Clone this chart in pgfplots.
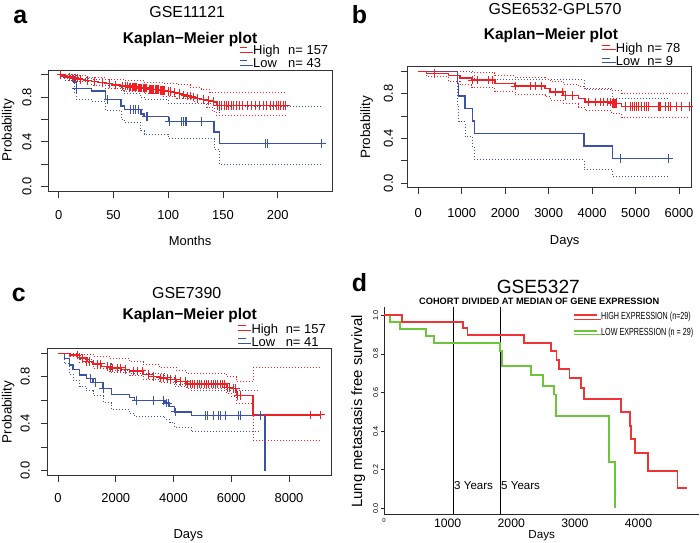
\documentclass[border=0pt]{standalone}
\usepackage{pgfplots}
\pgfplotsset{compat=1.18}
\usepackage{fontspec}
\setmainfont{Liberation Sans}
\newfontfamily\narrowfont[FakeStretch=0.7]{Liberation Sans}
\definecolor{kmred}{RGB}{238,32,36}
\definecolor{kmblue}{RGB}{58,82,168}
\definecolor{dred}{RGB}{240,52,52}
\definecolor{dgreen}{RGB}{108,198,58}
\pgfplotsset{
  rkm/.style={
    scale only axis, anchor=south west,
    axis line style={black!80, line width=1bp},
    tick style={black!80, line width=0.9bp},
    tick align=outside, major tick length=7bp,
    xtick pos=bottom, ytick pos=left,
    ymin=-0.04, ymax=1.04,
    ytick={0,0.2,0.4,0.6,0.8,1},
    yticklabels={0.0,,0.4,,0.8,},
    ticklabel style={font=\fontsize{13}{13}\selectfont, inner sep=0pt},
    yticklabel style={rotate=90, anchor=south},
    xticklabel style={anchor=north},
    legend cell align=left,
    legend style={draw=none, fill=none, inner sep=0pt, outer sep=0pt, row sep=0pt,
      font=\fontsize{13}{13}\selectfont,
      nodes={inner sep=0pt, text height=9.5bp, text depth=3.5bp}},
    legend image code/.code={\draw[##1, line width=1.2bp] (0bp,4.5bp) -- (7.7bp,4.5bp); \path (0bp,0bp) -- (13.4bp,0bp);},
  },
  km/.style={const plot, line width=1.4bp, no marks, forget plot},
  ci/.style={const plot, line width=1bp, dash pattern=on 1bp off 2bp, no marks, forget plot},
  cens/.style={only marks, mark=+, mark size=4.3bp, mark options={line width=1bp, solid}, forget plot},
}
\begin{document}
\begin{tikzpicture}[x=1bp,y=1bp]
\useasboundingbox (0,0) rectangle (700,543);

% ---------------- Panel a ----------------
\begin{axis}[rkm, at={(48.2bp,351.8bp)}, width=283.8bp, height=120.9bp,
  xmin=-9.6, xmax=249.6, xtick={0,50,100,150,200}, xticklabels={0,50,100,150,200},
  xticklabel shift=12.5bp, yticklabel shift=9.5bp,
  legend style={at={(axis description cs:0.6723,1.2051)}, anchor=north west}]
\addlegendimage{kmred}\addlegendentry{\makebox[35bp][l]{High}n= 157}
\addlegendimage{kmblue}\addlegendentry{\makebox[35bp][l]{Low}n= 43}
% Low (blue)
\addplot[ci, kmblue] coordinates {(0,1)(14,1.0)(16,0.97)(30,0.96)(43,0.90)(57,0.855)(60,0.83)(75,0.80)(78,0.78)(100,0.74)(142,0.66)(147,0.72)(240,0.72)};
\addplot[ci, kmblue] coordinates {(0,1)(5,0.95)(14,0.84)(16,0.78)(30,0.76)(43,0.68)(57,0.60)(60,0.57)(75,0.50)(78,0.47)(100,0.43)(142,0.33)(147,0.20)(240,0.20)};
\addplot[km, kmblue] coordinates {(0,1)(5,0.98)(14,0.93)(16,0.875)(30,0.855)(43,0.78)(57,0.72)(60,0.69)(75,0.65)(78,0.625)(100,0.58)(142,0.49)(147,0.385)(240,0.385)};
\addplot[cens, kmblue] coordinates {(16,0.875)(45,0.78)(66,0.69)(68,0.69)(70,0.69)(73,0.69)(80,0.625)(81,0.625)(101,0.58)(112,0.58)(114,0.58)(116,0.58)(117,0.58)(130,0.58)(189,0.385)(191,0.385)(240,0.385)};
% High (red)
\addplot[ci, kmred] coordinates {(0,1)(10,0.99)(25,0.975)(43,0.955)(60,0.945)(78,0.935)(95,0.925)(108,0.91)(120,0.89)(130,0.87)(138,0.845)(207,0.845)};
\addplot[ci, kmred] coordinates {(0,1)(5,0.97)(15,0.94)(30,0.905)(43,0.875)(60,0.85)(78,0.83)(95,0.81)(108,0.79)(124,0.745)(135,0.71)(140,0.67)(144,0.635)(207,0.635)};
\addplot[km, kmred] coordinates {(0,1.0)(3,0.99)(8,0.98)(12,0.97)(18,0.96)(24,0.95)(30,0.94)(36,0.93)(42,0.92)(48,0.91)(56,0.90)(64,0.89)(72,0.88)(82,0.87)(92,0.86)(98,0.85)(104,0.84)(108,0.83)(112,0.82)(117,0.81)(121,0.80)(125,0.79)(130,0.78)(135,0.77)(139,0.76)(142,0.75)(144,0.725)(207,0.725)};
\addplot[cens, kmred] coordinates {(2,1.0)(10,0.98)(13,0.97)(15,0.97)(17,0.97)(20,0.96)(26,0.95)(33,0.94)(40,0.93)(46,0.92)(52,0.91)(58,0.90)(61,0.90)(63,0.90)(65,0.89)(66,0.89)(67,0.89)(68,0.89)(69,0.89)(70,0.89)(71,0.89)(73,0.88)(74,0.88)(75,0.88)(76,0.88)(77,0.88)(78,0.88)(79,0.88)(80,0.88)(83,0.87)(84,0.87)(85,0.87)(86,0.87)(87,0.87)(88,0.87)(89,0.87)(90,0.87)(91,0.87)(93,0.86)(94,0.86)(95,0.86)(96,0.86)(97,0.86)(100,0.85)(102,0.85)(106,0.84)(110,0.83)(114,0.82)(118,0.81)(120,0.81)(123,0.80)(127,0.79)(132,0.78)(137,0.77)(141,0.76)(145,0.725)(147,0.725)(149,0.725)(151,0.725)(153,0.725)(155,0.725)(158,0.725)(160,0.725)(162,0.725)(165,0.725)(168,0.725)(172,0.725)(176,0.725)(180,0.725)(183,0.725)(187,0.725)(190,0.725)(193,0.725)(196,0.725)(199,0.725)(201,0.725)(203,0.725)(205,0.725)(207,0.725)};
\end{axis}

% ---------------- Panel b ----------------
\begin{axis}[rkm, at={(407.8bp,355.5bp)}, width=283.3bp, height=120.7bp,
  xmin=-241, xmax=6278, xtick={0,1000,2000,3000,4000,5000,6000}, xticklabels={0,1000,2000,3000,4000,5000,6000},
  xticklabel shift=13.8bp, yticklabel shift=7.5bp,
  legend style={at={(axis description cs:0.6844,1.1955)}, anchor=north west}]
\addlegendimage{kmred}\addlegendentry{\makebox[31.6bp][l]{High}n= 78}
\addlegendimage{kmblue}\addlegendentry{\makebox[31.6bp][l]{Low}n= 9}
\addplot[ci, kmblue] coordinates {(0,1)(1290,0.93)(3814,0.845)(4473,0.755)(5755,0.755)};
\addplot[ci, kmblue] coordinates {(0,1)(900,0.70)(930,0.55)(1075,0.42)(1250,0.32)(1290,0.21)(3814,0.125)(4473,0.06)(5755,0.06)};
\addplot[km, kmblue] coordinates {(0,1)(900,0.889)(930,0.778)(1075,0.667)(1250,0.556)(1290,0.444)(3814,0.333)(4473,0.222)(5755,0.222)};
\addplot[cens, kmblue] coordinates {(4643,0.222)(5755,0.222)};
\addplot[ci, kmred] coordinates {(0,1)(1230,0.985)(1765,0.96)(2226,0.945)(2917,0.93)(3032,0.905)(3338,0.885)(3683,0.86)(3837,0.84)(4450,0.83)(4680,0.805)(6200,0.805)};
\addplot[ci, kmred] coordinates {(0,1)(190,0.95)(690,0.91)(960,0.88)(1230,0.855)(1765,0.82)(2226,0.79)(2917,0.77)(3032,0.74)(3338,0.71)(3683,0.68)(3837,0.645)(4450,0.625)(4680,0.59)(6200,0.575)};
\addplot[km, kmred] coordinates {(0,1)(190,0.98)(690,0.96)(960,0.94)(1230,0.92)(1765,0.89)(2226,0.868)(2917,0.845)(3032,0.815)(3338,0.785)(3683,0.755)(3837,0.725)(4450,0.71)(4680,0.686)(6230,0.686)};
\addplot[cens, kmred] coordinates {(377,0.98)(1240,0.92)(1355,0.92)(1625,0.92)(1700,0.92)(2234,0.868)(2580,0.868)(2700,0.868)(2834,0.868)(3158,0.815)(3311,0.815)(3388,0.785)(3542,0.785)(3927,0.725)(4080,0.725)(4196,0.725)(4272,0.725)(4350,0.725)(4420,0.725)(4470,0.71)(4500,0.71)(4520,0.71)(4540,0.71)(4560,0.71)(4760,0.686)(4875,0.686)(4920,0.686)(4970,0.686)(5020,0.686)(5067,0.686)(5140,0.686)(5200,0.686)(5250,0.686)(5300,0.686)(5530,0.686)(5560,0.686)(5575,0.686)(5700,0.686)(5750,0.686)(5800,0.686)(5950,0.686)(6060,0.686)(6230,0.686)};
\end{axis}

% ---------------- Panel c ----------------
\begin{axis}[rkm, at={(47.5bp,67.6bp)}, width=284.4bp, height=126.8bp,
  xmin=-365, xmax=9485, xtick={0,2000,4000,6000,8000}, xticklabels={0,2000,4000,6000,8000},
  xticklabel shift=10.9bp, yticklabel shift=10.5bp,
  legend style={at={(axis description cs:0.6674,1.1956)}, anchor=north west}]
\addlegendimage{kmred}\addlegendentry{\makebox[34.3bp][l]{High}n= 157}
\addlegendimage{kmblue}\addlegendentry{\makebox[34.3bp][l]{Low}n= 41}
\addplot[ci, kmblue] coordinates {(0,1)(230,1.0)(404,0.99)(750,0.95)(1212,0.91)(1847,0.85)(2482,0.83)(3700,0.79)(4040,0.72)(4617,0.68)(7010,0.68)};
\addplot[ci, kmblue] coordinates {(0,1)(230,0.91)(404,0.82)(520,0.77)(750,0.72)(981,0.68)(1212,0.64)(1558,0.58)(1847,0.52)(2482,0.49)(2655,0.465)(3700,0.44)(3867,0.41)(4040,0.37)(4617,0.33)(7010,0.33)};
\addplot[km, kmblue] coordinates {(0,1)(230,0.957)(404,0.90)(520,0.86)(750,0.815)(981,0.787)(1212,0.753)(1558,0.702)(1847,0.65)(2482,0.624)(2655,0.60)(3700,0.575)(3867,0.545)(4040,0.50)(4617,0.469)(7170,0)};
\addplot[cens, kmblue] coordinates {(1118,0.787)(1290,0.753)(1558,0.702)(2713,0.60)(3290,0.60)(3640,0.60)(3760,0.575)(3810,0.575)(4060,0.50)(5100,0.469)(5160,0.469)(5390,0.469)(5560,0.469)(5620,0.469)(5800,0.469)(6250,0.469)(6320,0.469)(7000,0.469)};
\addplot[ci, kmred] coordinates {(0,1)(750,0.99)(1212,0.97)(1789,0.955)(2482,0.93)(2944,0.905)(3521,0.88)(4098,0.855)(4444,0.83)(5830,0.8)(6176,0.76)(6753,0.88)(9120,0.88)};
\addplot[ci, kmred] coordinates {(0,1)(400,0.97)(750,0.92)(1212,0.87)(1789,0.84)(2482,0.815)(2944,0.78)(3521,0.755)(4098,0.73)(4444,0.70)(5830,0.66)(6000,0.635)(6176,0.57)(6753,0.26)(9120,0.26)};
\addplot[km, kmred] coordinates {(0,1)(400,0.985)(750,0.96)(1000,0.93)(1212,0.91)(1500,0.89)(1789,0.875)(2200,0.86)(2482,0.85)(2944,0.82)(3300,0.80)(3521,0.79)(3800,0.775)(4098,0.76)(4444,0.74)(5830,0.71)(6000,0.70)(6176,0.64)(6753,0.475)(9120,0.475)};
\addplot[cens, kmred] coordinates {(657,0.985)(830,0.96)(1003,0.93)(1100,0.93)(1350,0.91)(1465,0.91)(1696,0.89)(1812,0.875)(1900,0.875)(2043,0.875)(2158,0.875)(2331,0.86)(2620,0.85)(2736,0.85)(2910,0.85)(3140,0.82)(3313,0.80)(3544,0.79)(3650,0.79)(3774,0.79)(3890,0.775)(4063,0.775)(4236,0.76)(4410,0.76)(4500,0.74)(4580,0.74)(4660,0.74)(4740,0.74)(4820,0.74)(4900,0.74)(4980,0.74)(5060,0.74)(5140,0.74)(5220,0.74)(5300,0.74)(5380,0.74)(5460,0.74)(5540,0.74)(5620,0.74)(5700,0.74)(5780,0.74)(5870,0.71)(5950,0.71)(6081,0.70)(6150,0.70)(6230,0.64)(6312,0.64)(8735,0.475)(9104,0.475)};
\end{axis}

% ---------------- Panel d ----------------
\begin{axis}[scale only axis, anchor=south west, at={(384bp,28.7bp)}, width=315bp, height=207.7bp,
  xmin=0, xmax=4950, ymin=-0.031, ymax=1.045,
  axis lines*=left, axis line style={black!85, line width=0.8bp},
  tick align=outside, major tick length=3bp,
  xtick={0,1000,2000,3000,4000}, xticklabels={{\fontsize{6}{6}\selectfont 0},1000,2000,3000,4000},
  xtick style={draw=none},
  xticklabel style={font=\fontsize{12.3}{12.3}\selectfont, anchor=north, inner sep=0pt},
  xticklabel shift=1bp,
  ytick={0,0.2,0.4,0.6,0.8,1}, yticklabels={0.0,0.2,0.4,0.6,0.8,1.0},
  ytick style={black!85, line width=0.7bp},
  yticklabel style={rotate=90, anchor=south, font=\fontsize{7.2}{7.2}\selectfont, inner sep=0pt},
  yticklabel shift=2.5bp,
  legend cell align=left,
  legend style={draw=none, fill=none, inner sep=0pt, outer sep=0pt, row sep=0pt,
    at={(axis description cs:0.6013,0.9788)}, anchor=north west,
    font=\narrowfont\fontsize{10.3}{10.3}\selectfont,
    nodes={inner sep=0pt, text height=9bp, text depth=6.7bp}},
  legend image code/.code={\draw[#1, line width=1.8bp] (0bp,3.6bp) -- (22.7bp,3.6bp); \path (0bp,0bp) -- (26.7bp,0bp);},
  ]
\addlegendimage{dred}\addlegendentry{HIGH EXPRESSION (n=29)}
\addlegendimage{dgreen}\addlegendentry{LOW EXPRESSION (n = 29)}
\addplot[black, line width=0.9bp, forget plot] coordinates {(1095,-0.031)(1095,1.045)};
\addplot[black, line width=0.9bp, forget plot] coordinates {(1826,-0.031)(1826,1.045)};
\addplot[const plot, dgreen, line width=1.8bp, forget plot] coordinates {(0,1)(94,0.967)(251,0.929)(658,0.894)(789,0.855)(1818,0.817)(1849,0.739)(2304,0.691)(2503,0.634)(2670,0.59)(2700,0.478)(3531,0.241)(3626,0.0)};
\addplot[const plot, dred, line width=1.8bp, forget plot] coordinates {(0,1)(282,0.967)(1243,0.933)(1311,0.898)(2199,0.858)(2618,0.817)(2712,0.768)(2748,0.722)(2915,0.674)(3098,0.622)(3140,0.566)(3730,0.497)(3861,0.426)(3887,0.357)(3950,0.288)(4148,0.195)(4613,0.104)(4760,0.104)};
\end{axis}

% ---------------- Texts ----------------
\begin{scope}[every node/.style={inner sep=0pt}]
\node[anchor=base west, font=\bfseries\fontsize{25}{25}\selectfont] at (13.3bp,519.7bp) {a};
\node[anchor=base west, font=\bfseries\fontsize{25}{25}\selectfont] at (351.7bp,519.7bp) {b};
\node[anchor=base west, font=\bfseries\fontsize{25}{25}\selectfont] at (11.7bp,241.3bp) {c};
\node[anchor=base west, font=\bfseries\fontsize{25}{25}\selectfont] at (351.7bp,251.3bp) {d};
% titles
\node[anchor=base, font=\fontsize{16}{16}\selectfont] at (187.2bp,525.7bp) {GSE11121};
\node[anchor=base, font=\bfseries\fontsize{15.6}{15.6}\selectfont] at (190.1bp,499.7bp) {Kaplan−Meier plot};
\node[anchor=base, font=\fontsize{16}{16}\selectfont] at (555bp,528bp) {GSE6532-GPL570};
\node[anchor=base, font=\bfseries\fontsize{15.6}{15.6}\selectfont] at (551bp,503.7bp) {Kaplan−Meier plot};
\node[anchor=base, font=\fontsize{16}{16}\selectfont] at (186.7bp,244.7bp) {GSE7390};
\node[anchor=base, font=\bfseries\fontsize{15.6}{15.6}\selectfont] at (189.7bp,223bp) {Kaplan−Meier plot};
\node[anchor=base, font=\fontsize{19.2}{19.2}\selectfont] at (538.3bp,249.7bp) {GSE5327};
\node[anchor=base, font=\bfseries\fontsize{9.27}{9.27}\selectfont] at (539.2bp,238bp) {COHORT DIVIDED AT MEDIAN OF GENE EXPRESSION};
% axis labels
\node[anchor=base, font=\fontsize{13}{13}\selectfont] at (190bp,297bp) {Months};
\node[anchor=base, rotate=90, font=\fontsize{13.5}{13.5}\selectfont] at (11.7bp,413bp) {Probability};
\node[anchor=base, font=\fontsize{13}{13}\selectfont] at (564.7bp,298bp) {Days};
\node[anchor=base, rotate=90, font=\fontsize{13.5}{13.5}\selectfont] at (370bp,415.8bp) {Probability};
\node[anchor=base, font=\fontsize{13}{13}\selectfont] at (188.3bp,4.7bp) {Days};
\node[anchor=base, rotate=90, font=\fontsize{13.5}{13.5}\selectfont] at (11.7bp,131bp) {Probability};
\node[anchor=base, font=\fontsize{11.7}{11.7}\selectfont] at (541.7bp,4.7bp) {Days};
\node[anchor=base, rotate=90, font=\fontsize{14.9}{14.9}\selectfont] at (362bp,131.5bp) {Lung metastasis free survival};
\node[anchor=base west, font=\fontsize{11.6}{11.6}\selectfont] at (454bp,53.7bp) {3 Years};
\node[anchor=base west, font=\fontsize{11.6}{11.6}\selectfont] at (501bp,53.7bp) {5 Years};
\end{scope}
\end{tikzpicture}
\end{document}
